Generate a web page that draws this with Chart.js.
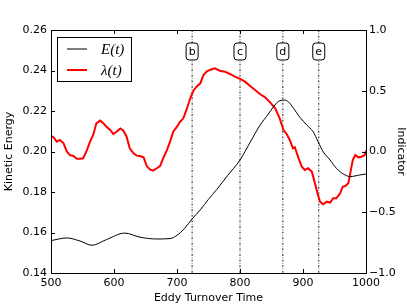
<!DOCTYPE html>
<html>
<head>
<meta charset="utf-8">
<script src="https://cdn.jsdelivr.net/npm/chart.js@4"></script>
<style>
  html, body { margin: 0; padding: 0; background: #fff; }
  #wrap { width: 407px; height: 305px; }
</style>
</head>
<body>
<div id="wrap"><canvas id="chart" width="407" height="305"></canvas></div>
<script>
// kinetic energy E(t), left axis
var tE = [500, 525, 546, 565, 588, 617, 641, 668, 689, 700, 712, 724, 737, 750, 763, 780, 800, 816, 832, 845, 853, 863, 871, 877, 885, 895, 906, 916, 924, 932, 943, 953, 964, 975, 990, 1000];
var energy = [0.1560, 0.1573, 0.1558, 0.1537, 0.1565, 0.1597, 0.1577, 0.1568, 0.1570, 0.1586, 0.1620, 0.1667, 0.1712, 0.1764, 0.1812, 0.1880, 0.1958, 0.2045, 0.2131, 0.2185, 0.2220, 0.2251, 0.2254, 0.2245, 0.2213, 0.2169, 0.2131, 0.2098, 0.2048, 0.1999, 0.1958, 0.1917, 0.1889, 0.1876, 0.1884, 0.1889];

// indicator lambda(t), right axis
var tL = [500, 504, 509, 514, 520, 525, 530, 535, 541, 546, 551, 557, 562, 567, 572, 578, 583, 588, 594, 599, 604, 610, 615, 620, 625, 631, 636, 641, 647, 652, 657, 662, 668, 673, 678, 684, 689, 694, 700, 705, 710, 715, 721, 726, 731, 737, 742, 747, 752, 760, 768, 776, 784, 792, 800, 808, 816, 824, 832, 840, 848, 856, 863, 869, 874, 879, 884, 887, 893, 898, 903, 908, 914, 919, 923, 927, 932, 938, 943, 948, 953, 959, 963, 967, 972, 975, 979, 983, 988, 993, 998, 1000];
var lambda = [0.128, 0.117, 0.081, 0.095, 0.067, 0.000, -0.030, -0.035, -0.060, -0.060, -0.056, 0.012, 0.081, 0.136, 0.232, 0.254, 0.232, 0.204, 0.177, 0.144, 0.163, 0.190, 0.171, 0.122, 0.026, -0.015, -0.034, -0.037, -0.048, -0.120, -0.147, -0.158, -0.138, -0.120, -0.056, 0.012, 0.081, 0.163, 0.204, 0.245, 0.273, 0.342, 0.438, 0.500, 0.533, 0.561, 0.630, 0.657, 0.671, 0.685, 0.665, 0.657, 0.638, 0.616, 0.597, 0.575, 0.539, 0.506, 0.471, 0.446, 0.402, 0.355, 0.273, 0.177, 0.144, 0.095, 0.026, 0.035, -0.056, -0.125, -0.152, -0.138, -0.166, -0.262, -0.344, -0.413, -0.435, -0.413, -0.420, -0.385, -0.385, -0.344, -0.290, -0.284, -0.262, -0.180, -0.070, -0.029, -0.048, -0.043, -0.029, 0.007];

// marked times
var markTimes = [724, 800, 868, 925];
var markLabels = ['b', 'c', 'd', 'e'];

var xTicks = [500, 600, 700, 800, 900, 1000];
var leftTicks = [0.14, 0.16, 0.18, 0.20, 0.22, 0.24, 0.26];
var rightTicks = [-1.0, -0.5, 0.0, 0.5, 1.0];

function pts(xs, ys) {
    return xs.map(function (x, i) { return { x: x, y: ys[i] }; });
}

var font = 'DejaVu Sans';

// frame, inward ticks, marker lines, boxes and legend
var decor = {
    id: 'decor',
    beforeDatasetsDraw: function (chart) {
        var c = chart.ctx, a = chart.chartArea, xs = chart.scales.x;
        c.save();
        c.strokeStyle = '#222';
        c.lineWidth = 1;
        c.setLineDash([2, 1.5, 0.6, 1.5]);
        markTimes.forEach(function (t) {
            var px = xs.getPixelForValue(t);
            c.beginPath();
            c.moveTo(px, a.top);
            c.lineTo(px, a.bottom);
            c.stroke();
        });
        c.restore();
    },
    afterDatasetsDraw: function (chart) {
        var c = chart.ctx, a = chart.chartArea;
        var xs = chart.scales.x, yl = chart.scales.y, yr = chart.scales.y1;
        c.save();
        // ticks pointing in
        c.strokeStyle = '#000';
        c.lineWidth = 1;
        c.beginPath();
        xTicks.forEach(function (t) {
            var px = Math.round(xs.getPixelForValue(t)) + 0.5;
            c.moveTo(px, a.bottom); c.lineTo(px, a.bottom - 4);
            c.moveTo(px, a.top); c.lineTo(px, a.top + 4);
        });
        leftTicks.forEach(function (v) {
            var py = Math.round(yl.getPixelForValue(v)) + 0.5;
            c.moveTo(a.left, py); c.lineTo(a.left + 4, py);
        });
        rightTicks.forEach(function (v) {
            var py = Math.round(yr.getPixelForValue(v)) + 0.5;
            c.moveTo(a.right, py); c.lineTo(a.right - 4, py);
        });
        c.stroke();
        c.strokeRect(Math.round(a.left) + 0.5, Math.round(a.top) + 0.5,
            Math.round(a.right - a.left), Math.round(a.bottom - a.top));

        // label boxes
        c.font = '11px "' + font + '"';
        c.textAlign = 'center';
        c.textBaseline = 'middle';
        markTimes.forEach(function (t, i) {
            var px = xs.getPixelForValue(t);
            var w = 12, h = 17, y0 = 43;
            c.beginPath();
            c.roundRect(px - w / 2, y0, w, h, 3);
            c.fillStyle = '#fff';
            c.fill();
            c.strokeStyle = '#000';
            c.stroke();
            c.fillStyle = '#000';
            c.fillText(markLabels[i], px, y0 + h / 2 + 0.5);
        });

        // legend
        c.fillStyle = '#fff';
        c.fillRect(57.5, 37.5, 74, 44);
        c.strokeStyle = '#000';
        c.strokeRect(57.5, 37.5, 74, 44);
        chart.data.datasets.forEach(function (ds, i) {
            var ly = i === 0 ? 49 : 70;
            c.strokeStyle = ds.borderColor;
            c.lineWidth = ds.borderWidth;
            c.beginPath();
            c.moveTo(67, ly); c.lineTo(87, ly);
            c.stroke();
            c.fillStyle = '#000';
            c.textAlign = 'left';
            c.font = 'italic 15px "Liberation Serif"';
            c.fillText(ds.label, 101, ly + 1);
        });
        c.restore();
    }
};

var ctx = document.getElementById('chart');
var chart = new Chart(ctx, {
    type: 'line',
    data: {
        datasets: [{
            label: 'E(t)',
            data: pts(tE, energy),
            yAxisID: 'y',
            borderColor: '#000000',
            borderWidth: 1,
            pointRadius: 0,
            cubicInterpolationMode: 'monotone'
        }, {
            label: 'λ(t)',
            data: pts(tL, lambda),
            yAxisID: 'y1',
            borderColor: '#ff0000',
            borderWidth: 2,
            pointRadius: 0,
            tension: 0
        }]
    },
    options: {
        responsive: false,
        animation: false,
        layout: { padding: { top: 30, left: 0, right: 0, bottom: 0 } },
        plugins: {
            legend: { display: false },
            tooltip: { enabled: false }
        },
        scales: {
            x: {
                type: 'linear',
                min: 500,
                max: 1000,
                afterBuildTicks: function (s) { s.ticks = xTicks.map(function (v) { return { value: v }; }); },
                afterFit: function (s) { s.height = 32; },
                grid: { display: false, drawTicks: false },
                border: { display: false },
                ticks: {
                    color: '#000', padding: 4, maxRotation: 0, font: { family: font, size: 11 },
                    callback: function (v) { return String(v); }
                },
                title: { display: true, text: 'Eddy Turnover Time', color: '#000', padding: { top: 0, bottom: 0 }, font: { family: font, size: 11 } }
            },
            y: {
                position: 'left',
                min: 0.14,
                max: 0.26,
                afterBuildTicks: function (s) { s.ticks = leftTicks.map(function (v) { return { value: v }; }); },
                afterFit: function (s) { s.width = 51; },
                grid: { display: false, drawTicks: false },
                border: { display: false },
                ticks: {
                    color: '#000', padding: 4, font: { family: font, size: 11 },
                    callback: function (v) { return v.toFixed(2); }
                },
                title: { display: true, text: 'Kinetic Energy', color: '#000', padding: { top: 3, bottom: 0 }, font: { family: font, size: 11 } }
            },
            y1: {
                position: 'right',
                min: -1,
                max: 1,
                afterBuildTicks: function (s) { s.ticks = rightTicks.map(function (v) { return { value: v }; }); },
                afterFit: function (s) { s.width = 41; },
                grid: { display: false, drawTicks: false },
                border: { display: false },
                ticks: {
                    color: '#000', padding: 3, font: { family: font, size: 11 },
                    callback: function (v) { return v.toFixed(1).replace('-', '\u2212'); }
                },
                title: { display: true, text: 'Indicator', color: '#000', padding: { top: 0, bottom: 0 }, font: { family: font, size: 11 } }
            }
        }
    },
    plugins: [decor]
});
</script>
</body>
</html>
